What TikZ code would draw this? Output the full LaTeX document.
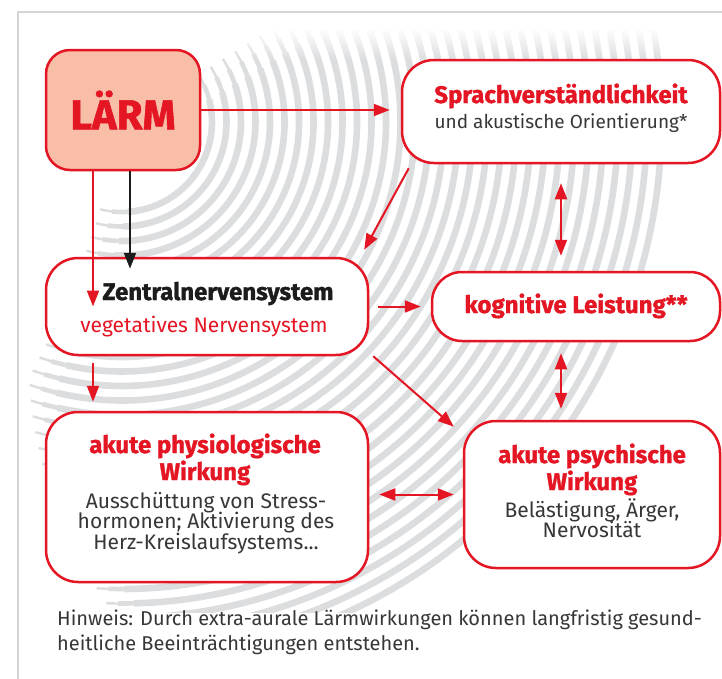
\documentclass[tikz,border=0pt]{standalone}
\usepackage{fontspec}
\setmainfont{Fira Sans}
\newfontfamily\headfont[FakeBold=1.3]{Fira Sans}
\usetikzlibrary{arrows.meta,fadings}

\definecolor{noisered}{RGB}{228,22,36}
\definecolor{noisefill}{RGB}{248,190,168}
\definecolor{wavegray}{RGB}{220,221,223}
\definecolor{framegray}{RGB}{212,212,212}
\definecolor{bodytext}{RGB}{55,55,55}
\definecolor{inkblack}{RGB}{28,28,28}

\tikzset{
  box/.style={draw=noisered, line width=2.5pt, fill=white, rounded corners=32pt, inner sep=0pt},
  title/.style={font=\headfont\bfseries\fontsize{24}{26}\selectfont, text=noisered, inner sep=0pt, anchor=base},
  body/.style={font=\fontsize{21}{22}\selectfont, text=bodytext, inner sep=0pt, anchor=base},
  note/.style={font=\fontsize{20}{22}\selectfont, text=bodytext, inner sep=0pt, anchor=base west},
  arr/.style={draw=noisered, line width=2pt, -{Triangle[length=16pt,width=12pt]}},
  dblarr/.style={draw=noisered, line width=2pt, {Triangle[length=16pt,width=12pt]}-{Triangle[length=16pt,width=12pt]}},
  wave/.style={draw=wavegray},
}

\begin{document}
\begin{tikzpicture}[x=1pt, y=-1pt]
  \useasboundingbox (0,0) rectangle (722,678);
  \fill[white] (0,0) rectangle (722,678);

  % sound waves spreading out from the noise source
  \coordinate (wc) at (122,122);
  \begin{scope}
    \clip (20,30) rectangle (722,612);
    \foreach \k in {0,...,31}{
      \pgfmathsetmacro\r{90+14.5*\k}
      \pgfmathsetmacro\te{\r<271 ? 104+0.0328*(\r-88) : 110-0.0861*(\r-271)}
      \pgfmathsetmacro\ts{-32}
      \pgfmathsetmacro\da{12/\r*57.3}
      \pgfmathsetmacro\db{28/\r*57.3}
      \draw[wave, line width=2.4] (wc) ++(\ts:\r) arc[start angle=\ts, end angle=\te, radius=\r];
      \draw[wave, line width=4.6] (wc) ++(\ts+\da:\r) arc[start angle=\ts+\da, end angle=\te-\da, radius=\r];
      \draw[wave, line width=6.6] (wc) ++(\ts+\db:\r) arc[start angle=\ts+\db, end angle=\te-\db, radius=\r];
    }
    \fill[white, path fading=south] (20,28) rectangle (722,60);
  \end{scope}

  % frame
  \draw[framegray, line width=2.5pt] (18,12) rectangle (760,720);

  % boxes
  \node[box, fill=noisefill, rounded corners=24pt, minimum width=154pt, minimum height=120pt,
        font=\headfont\bfseries\fontsize{42}{44}\selectfont, text=noisered] (laerm) at (123,110) {LÄRM};
  \node[box, minimum width=318pt, minimum height=103pt] (sprach) at (561,111.5) {};
  \node[box, minimum width=322pt, minimum height=97pt] (zns) at (207,306.5) {};
  \node[box, minimum width=288pt, minimum height=69pt, rounded corners=30pt] (kog) at (576,306.5) {};
  \node[box, minimum width=322pt, minimum height=170pt] (phys) at (207,497) {};
  \node[box, minimum width=256pt, minimum height=147pt] (psy) at (592,494.5) {};

  % box texts
  \node[title] (sprachT) at (561,103) {Sprachverständlichkeit};
  \node[body, font=\fontsize{19}{20}\selectfont] (sprachB) at (561,128) {und akustische Orientierung*};
  \node[title, text=inkblack] (znsT) at (218,300) {Zentralnervensystem};
  \node[body, text=noisered]  (znsB) at (204,332) {vegetatives Nervensystem};
  \node[title] (kogT) at (576,313) {kognitive Leistung**};
  \node[title] (physT1) at (205,453) {akute physiologische};
  \node[title] (physT2) at (205,480) {Wirkung};
  \node[body]  (physB1) at (206,508) {Ausschüttung von Stress-};
  \node[body]  (physB2) at (206,528.5) {hormonen; Aktivierung des};
  \node[body]  (physB3) at (206,549) {Herz-Kreislaufsystems...};
  \node[title] (psyT1) at (592,463) {akute psychische};
  \node[title] (psyT2) at (592,490) {Wirkung};
  \node[body]  (psyB1) at (592,517) {Belästigung, Ärger,};
  \node[body]  (psyB2) at (592,537) {Nervosität};

  % footnote
  \node[note] (note1) at (57,625) {Hinweis: Durch extra-aurale Lärmwirkungen können langfristig gesund-};
  \node[note] (note2) at (57,650) {heitliche Beeinträchtigungen entstehen.};

  % connectors
  \coordinate (redx) at ([xshift=-30pt]laerm.south);
  \coordinate (blackx) at ([xshift=7pt]laerm.south);
  \draw[arr, shorten >=11pt] (laerm.east) -- (laerm.east -| sprach.west);
  \draw[arr, draw=inkblack] (blackx) -- ([yshift=-12pt]blackx |- zns.north);
  \draw[arr] (redx) -- (redx |- zns.center);
  \draw[arr, shorten <=7pt, shorten >=9pt] (redx |- zns.south) -- (redx |- phys.north);
  \draw[arr] ([xshift=8pt,yshift=-4pt]sprach.south west) -- ([xshift=-5pt,yshift=7pt]zns.north east);
  \draw[arr, shorten <=9pt, shorten >=10pt] (zns.east) -- (zns.east -| kog.west);
  \draw[arr] ([xshift=4pt]zns.south east) -- ([xshift=-9pt,yshift=-7pt]psy.north west);
  \draw[dblarr, shorten <=19pt, shorten >=15pt] (sprach.south) -- (sprach.south |- kog.north);
  \draw[dblarr, shorten <=11pt, shorten >=11pt] (sprach.south |- kog.south) -- (sprach.south |- psy.north);
  \draw[dblarr, shorten <=10pt, shorten >=9pt] (phys.east |- psy.west) -- (psy.west);
\end{tikzpicture}
\end{document}
